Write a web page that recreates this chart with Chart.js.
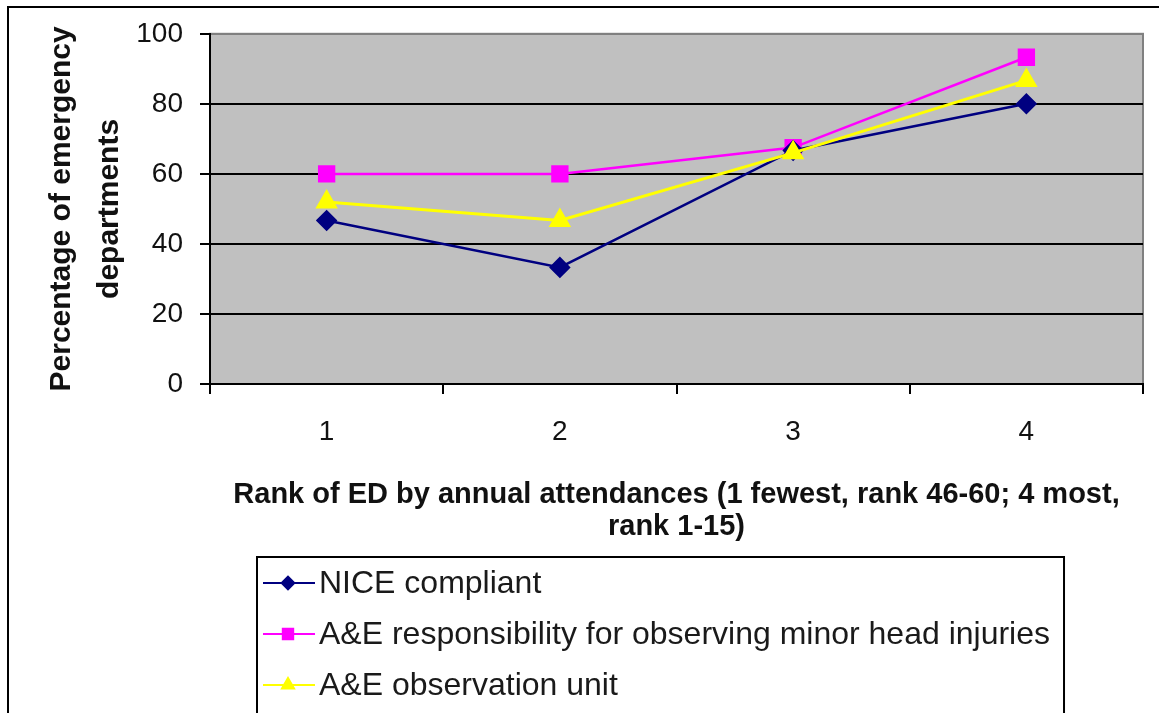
<!DOCTYPE html>
<html>
<head>
<meta charset="utf-8">
<script src="https://cdn.jsdelivr.net/npm/chart.js@4.4.1/dist/chart.umd.min.js"></script>
<style>
  html, body { margin: 0; padding: 0; background: #ffffff; }
  #wrap { width: 1159px; height: 713px; }
</style>
</head>
<body>
<div id="wrap"><canvas id="myChart" width="1159" height="713"></canvas></div>
<script>
// data
const categories = ["1", "2", "3", "4"];
const niceCompliant = [46.7, 33.3, 66.7, 80];
const aeResponsibility = [60, 60, 67.5, 93.3];
const aeObservationUnit = [52, 46.7, 66, 86.7];
const yTicks = [0, 20, 40, 60, 80, 100];

const FONT = "'Liberation Sans', Arial, sans-serif";

// grey plot area + outer frame + boxed legend
const framePlugin = {
  id: "frame",
  beforeDraw(chart) {
    const { ctx, chartArea: a } = chart;
    ctx.save();
    ctx.fillStyle = "#c0c0c0";
    ctx.fillRect(a.left, a.top, a.right - a.left, a.bottom - a.top);
    ctx.strokeStyle = "#808080";
    ctx.lineWidth = 2;
    ctx.strokeRect(a.left, a.top, a.right - a.left, a.bottom - a.top);
    ctx.restore();
  },
  afterDraw(chart) {
    const ctx = chart.ctx;
    ctx.save();
    // outer border
    ctx.strokeStyle = "#000000";
    ctx.lineWidth = 2;
    ctx.strokeRect(8, 7, 1170, 720);

    // legend
    const xs = chart.scales.x;
    const top = xs.bottom + 13;
    const left = 257;
    ctx.font = "32px " + FONT;
    let maxW = 0;
    chart.data.datasets.forEach((ds) => {
      maxW = Math.max(maxW, ctx.measureText(ds.label).width);
    });
    ctx.strokeStyle = "#000000";
    ctx.lineWidth = 2;
    ctx.strokeRect(left, top, 62 + maxW + 14, 200);

    chart.data.datasets.forEach((ds, i) => {
      const y = top + 26 + i * 51;
      ctx.strokeStyle = ds.borderColor;
      ctx.lineWidth = 2;
      ctx.beginPath();
      ctx.moveTo(left + 6, y);
      ctx.lineTo(left + 58, y);
      ctx.stroke();
      ctx.fillStyle = ds.pointBackgroundColor;
      ctx.strokeStyle = ds.pointBorderColor;
      Chart.helpers.drawPoint(ctx, {
        pointStyle: ds.pointStyle,
        radius: ds.pointRadius * 0.7,
        borderWidth: 1,
        rotation: 0,
      }, left + 31, y);
      ctx.fillStyle = "#1a1a1a";
      ctx.textAlign = "left";
      ctx.textBaseline = "middle";
      ctx.fillText(ds.label, left + 62, y + 1);
    });
    ctx.restore();
  },
};

new Chart(document.getElementById("myChart"), {
  type: "line",
  data: {
    labels: categories,
    datasets: [
      {
        label: "NICE compliant",
        data: niceCompliant,
        borderColor: "#000080",
        backgroundColor: "#000080",
        pointBackgroundColor: "#000080",
        pointBorderColor: "#000080",
        pointStyle: "rectRot",
        pointRadius: 9,
        borderWidth: 2.5,
        order: 1,
      },
      {
        label: "A&E responsibility for observing minor head injuries",
        data: aeResponsibility,
        borderColor: "#ff00ff",
        backgroundColor: "#ff00ff",
        pointBackgroundColor: "#ff00ff",
        pointBorderColor: "#ff00ff",
        pointStyle: "rect",
        pointRadius: 10.5,
        borderWidth: 2.5,
        order: 2,
      },
      {
        label: "A&E observation unit",
        data: aeObservationUnit,
        borderColor: "#ffff00",
        backgroundColor: "#ffff00",
        pointBackgroundColor: "#ffff00",
        pointBorderColor: "#ffff00",
        pointStyle: "triangle",
        pointRadius: 10,
        borderWidth: 3,
        order: 0,
      },
    ],
  },
  options: {
    responsive: false,
    animation: false,
    layout: {
      padding: { left: 0, right: 16, top: 33, bottom: 169 },
    },
    scales: {
      x: {
        type: "category",
        offset: true,
        afterFit: (s) => {
          s.height = 160;
        },
        border: { display: true, color: "#000000", width: 2 },
        grid: {
          offset: true,
          drawOnChartArea: false,
          drawTicks: true,
          tickLength: 10,
          color: "#000000",
          lineWidth: 2,
        },
        ticks: {
          color: "#111111",
          padding: 21,
          font: { family: FONT, size: 28 },
        },
        title: {
          display: true,
          text: [
            "Rank of ED by annual attendances (1 fewest, rank 46-60; 4 most,",
            "rank 1-15)",
          ],
          color: "#111111",
          padding: { top: 0, bottom: 1 },
          font: { family: FONT, size: 29, weight: "bold", lineHeight: 1.1 },
        },
      },
      y: {
        min: 0,
        max: 100,
        afterFit: (s) => {
          s.width = 210;
        },
        afterBuildTicks: (s) => {
          s.ticks = yTicks.map((v) => ({ value: v }));
        },
        border: { display: true, color: "#000000", width: 2 },
        grid: {
          drawTicks: true,
          tickLength: 10,
          lineWidth: 2,
          tickColor: "#000000",
          color: function (context) {
            if (context.tick && context.tick.value === 100) {
              return "#808080";
            }
            return "#000000";
          },
        },
        ticks: {
          color: "#111111",
          padding: 17,
          font: { family: FONT, size: 28 },
        },
        title: {
          display: true,
          text: ["Percentage of emergency", "departments"],
          color: "#111111",
          padding: { top: 38, bottom: 0 },
          font: { family: FONT, size: 30, weight: "bold", lineHeight: 1.6 },
        },
      },
    },
    plugins: {
      legend: { display: false },
      tooltip: { enabled: false },
    },
  },
  plugins: [framePlugin],
});
</script>
</body>
</html>
